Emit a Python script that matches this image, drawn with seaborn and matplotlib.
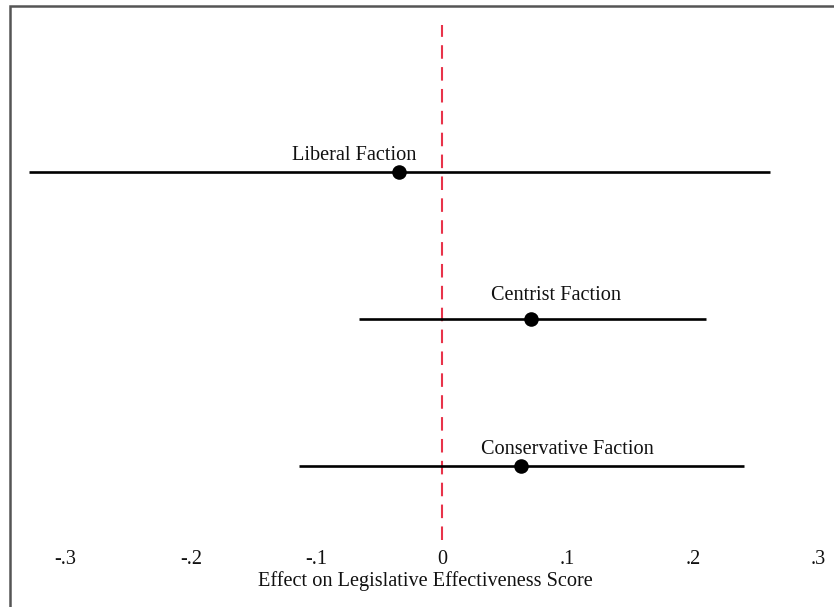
import matplotlib
matplotlib.use("Agg")
import matplotlib.pyplot as plt
import seaborn as sns
import pandas as pd

# Estimated effects with confidence bounds, by faction
factions = ["Liberal Faction", "Centrist Faction", "Conservative Faction"]
estimates = [-0.034, 0.071, 0.063]
lower = [-0.329, -0.066, -0.114]
upper = [0.261, 0.210, 0.241]
rows = [3, 2, 1]

# Label placement relative to each estimate (data units)
label_dx = [-0.036, 0.020, 0.037]
label_dy = [0.110, 0.165, 0.118]

xticks = [-0.3, -0.2, -0.1, 0, 0.1, 0.2, 0.3]
xticklabels = ["-.3", "-.2", "-.1", "0", ".1", ".2", ".3"]

df = pd.DataFrame({"faction": factions, "est": estimates,
                   "lo": lower, "hi": upper, "row": rows})

sns.set_style("white")
plt.rcParams["font.family"] = ["Liberation Serif", "DejaVu Serif"]

fig = plt.figure(figsize=(8.34, 6.07), dpi=100)
ax = fig.add_axes([20 / 834, 1 - 540 / 607, 810 / 834, 515 / 607])

ax.axvline(0, color="#e8334a", lw=1.5, dashes=(6.5, 4), zorder=1)
ax.hlines(df["row"], df["lo"], df["hi"], color="black", lw=1.9, zorder=2)
sns.scatterplot(data=df, x="est", y="row", ax=ax, color="black", s=110,
                edgecolor="black", linewidth=0, zorder=3, legend=False)

for name, x, y, dx, dy in zip(factions, estimates, rows, label_dx, label_dy):
    ax.text(x + dx, y + dy, name, ha="center", va="center", fontsize=14.6,
            color="#111111")

ax.set_xlim(-0.3363, 0.3092)
ax.set_ylim(0.5, 4.0)
ax.set_xticks(xticks)
ax.set_xticklabels(xticklabels, fontsize=14.6, color="#111111")
ax.set_yticks([])
ax.tick_params(axis="x", length=0, pad=7.5)
ax.set_xlabel("Effect on Legislative Effectiveness Score", fontsize=14.6,
              labelpad=1, color="#111111")
ax.set_ylabel("")
for s in ax.spines.values():
    s.set_visible(False)

# Outer frame, open on the right and bottom edges
frame = plt.Rectangle((9.5 / 834, -0.05), 1.1, 1 - 5.5 / 607 + 0.05,
                      transform=fig.transFigure, fill=False,
                      edgecolor="#555555", lw=1.8)
fig.patches.append(frame)

fig.savefig("out.png", dpi=100)
